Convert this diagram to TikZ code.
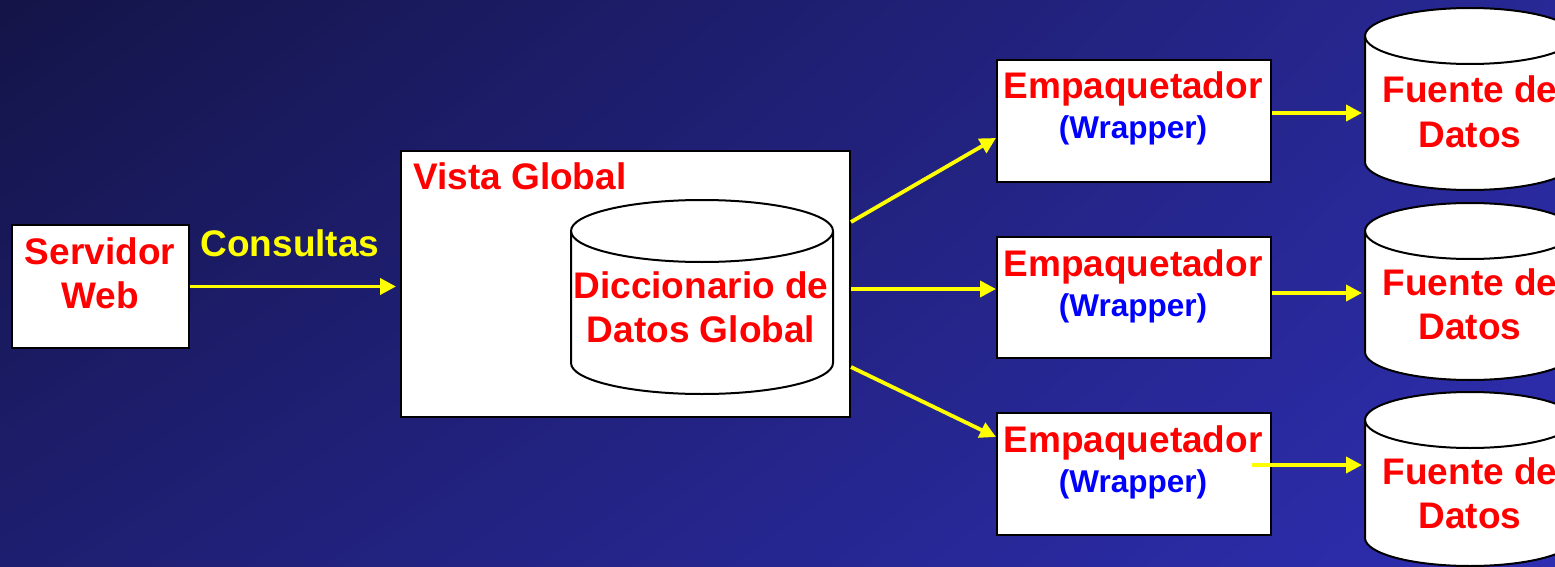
\documentclass[tikz,border=0pt]{standalone}
\usepackage{fontspec}
\setmainfont{Liberation Sans}
\usetikzlibrary{arrows.meta,calc,shadings}
\definecolor{bgTL}{RGB}{20,20,72}
\definecolor{bgTR}{RGB}{40,40,150}
\definecolor{bgBL}{RGB}{30,30,112}
\definecolor{bgBR}{RGB}{46,46,178}
\definecolor{txtred}{RGB}{255,0,0}
\definecolor{txtblue}{RGB}{0,0,255}
\definecolor{arrowyellow}{RGB}{255,255,0}
\newcommand{\mycyl}[5]{%
  \filldraw[fill=white,draw=black,line width=2pt]
    (#1-#4,#2+#5) -- (#1-#4,#3-#5)
    arc[start angle=180,end angle=0,x radius=#4,y radius=#5]
    -- (#1+#4,#2+#5)
    arc[start angle=0,end angle=-180,x radius=#4,y radius=#5] -- cycle;
  \draw[line width=2pt] (#1-#4,#2+#5)
    arc[start angle=180,end angle=0,x radius=#4,y radius=#5];
}
\begin{document}
\begin{tikzpicture}[x=1pt,y=-1pt,
  box/.style={draw=black,fill=white,line width=2pt,anchor=north west,inner sep=0pt},
  bigtxt/.style={font=\fontsize{37}{44}\selectfont\bfseries,text=txtred,align=center,inner sep=0pt,anchor=base},
  wraptxt/.style={font=\fontsize{31.5}{38}\selectfont\bfseries,text=txtblue,inner sep=0pt,anchor=base},
  yarrow/.style={draw=arrowyellow,line width=3.8pt,-{Triangle[length=16pt,width=16pt]}}]
\useasboundingbox (0,0) rectangle (1555,567);
\clip (0,0) rectangle (1555,567);
\shade[upper left=bgTL,upper right=bgTR,lower left=bgBL,lower right=bgBR] (0,0) rectangle (1555,567);

% boxes
\node[box,minimum width=177pt,minimum height=123pt] (sw) at (11,224) {};
\node[box,minimum width=449pt,minimum height=266pt] (vg) at (400,150) {};
\node[box,minimum width=274pt,minimum height=122pt] (e1) at (996,59) {};
\node[box,minimum width=274pt,minimum height=121pt] (e2) at (996,236) {};
\node[box,minimum width=274pt,minimum height=122pt] (e3) at (996,412) {};

% cylinders
\mycyl{702}{200}{394}{131}{31}
\mycyl{1470}{8}{190}{105}{28}
\mycyl{1470}{203}{380}{105}{28}
\mycyl{1470}{392}{566}{105}{28}

% texts
\node[bigtxt] (swt) at (100,308) {Servidor\\Web};
\node[bigtxt,text=arrowyellow] (cons) at (290,256) {Consultas};
\node[bigtxt,anchor=base west] (vgt) at (413,189) {Vista Global};
\node[bigtxt] (ddg) at (701,342) {Diccionario de\\Datos Global};
\node[bigtxt] (e1a) at (1133,99) {Empaquetador};
\node[wraptxt] (e1b) at (1133,139) {(Wrapper)};
\node[bigtxt] (e2a) at (1133,276) {Empaquetador};
\node[wraptxt] (e2b) at (1133,316) {(Wrapper)};
\node[bigtxt] (e3a) at (1133,452) {Empaquetador};
\node[wraptxt] (e3b) at (1133,492) {(Wrapper)};
\node[bigtxt] (f1) at (1470,147) {Fuente de\\Datos};
\node[bigtxt] (f2) at (1470,339) {Fuente de\\Datos};
\node[bigtxt] (f3) at (1470,528) {Fuente de\\Datos};

% connector end points
\coordinate (c1) at (1365,113);
\coordinate (c2) at (1365,293);
\coordinate (c3) at (1365,465);
\coordinate (s3) at (1252,465);

% arrows
\draw[yarrow] (sw.east) -- ($(vg.west |- sw.east)+(-4,0)$);
\draw[yarrow] ($(vg.north east)+(0,72)$) -- ($(e1.north west)+(0,79)$);
\draw[yarrow] ($(vg.north east)+(0,139)$) -- ($(e2.north west)+(0,53)$);
\draw[yarrow] ($(vg.north east)+(0,217)$) -- ($(e3.north west)+(0,25)$);
\draw[yarrow] (e1.east |- c1) -- ($(c1)+(-3,0)$);
\draw[yarrow] (e2.east |- c2) -- ($(c2)+(-3,0)$);
\draw[yarrow] (s3) -- ($(c3)+(-3,0)$);
\end{tikzpicture}
\end{document}
